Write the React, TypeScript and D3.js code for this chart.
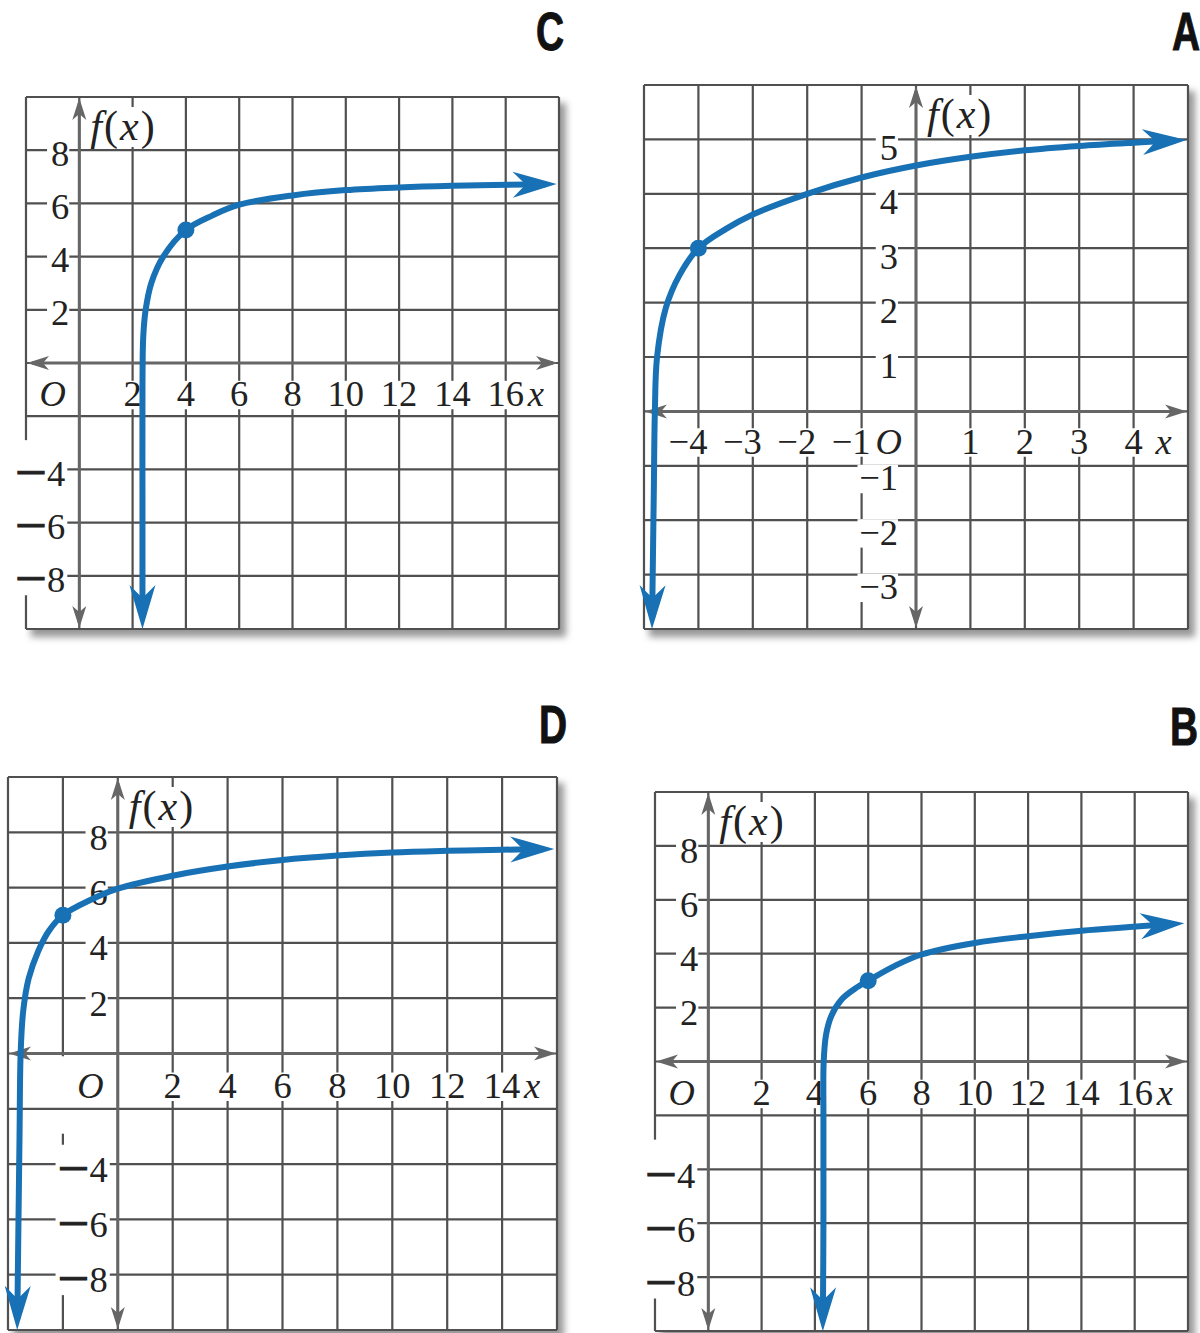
import React from "react";
import * as d3 from "d3";

// ---------------- DATA ----------------
// Panel C (top-left)
const cXDomain = [-2, 18];
const cYDomain = [-10, 10];
const cXTicks = [2, 4, 6, 8, 10, 12, 14, 16];
const cYTicks = [8, 6, 4, 2];
const cYNegTicks = [-4, -6, -8];
const cCurve: [number, number][] = [
  [2.37, -9.59], [2.37, -5], [2.37, -1], [2.4, 1], [2.49, 2], [2.7, 3], [3.15, 4],
  [4, 5], [5, 5.55], [6, 5.95], [8, 6.3], [10, 6.5], [12, 6.6], [14, 6.66], [17.5, 6.72],
];
const cPoint: [number, number] = [4, 5];

// Panel A (top-right)
const aXDomain = [-5, 5];
const aYDomain = [-4, 6];
const aXTicks = [-4, -3, -2, -1, 1, 2, 3, 4];
const aYTicks = [5, 4, 3, 2, 1];
const aYNegTicks = [-1, -2, -3];
const aCurve: [number, number][] = [
  [-4.85, -3.8], [-4.84, -3], [-4.82, -1.5], [-4.8, 0], [-4.76, 1], [-4.6, 1.9],
  [-4.35, 2.5], [-4, 3], [-3.5, 3.35], [-3, 3.62], [-2, 4.0], [-1, 4.3], [0, 4.52],
  [1, 4.68], [2, 4.8], [3, 4.88], [4, 4.94], [4.77, 4.98],
];
const aPoint: [number, number] = [-4, 3];

// Panel D (bottom-left)
const dXDomain = [-4, 16];
const dYDomain = [-10, 10];
const dXTicks = [2, 4, 6, 8, 10, 12, 14];
const dYTicks = [8, 6, 4, 2];
const dYNegTicks = [-4, -6, -8];
const dCurve: [number, number][] = [
  [-3.66, -9.6], [-3.63, -7], [-3.58, -3], [-3.54, 0], [-3.45, 1.5], [-3.25, 2.7],
  [-2.9, 3.7], [-2.5, 4.45], [-2, 5], [-1, 5.55], [0, 5.96], [2, 6.43], [4, 6.76],
  [6, 7.0], [8, 7.16], [10, 7.27], [12, 7.33], [14, 7.37], [15.5, 7.39],
];
const dPoint: [number, number] = [-2, 5];

// Panel B (bottom-right)
const bXDomain = [-2, 18];
const bYDomain = [-10, 10];
const bXTicks = [2, 4, 6, 8, 10, 12, 14, 16];
const bYTicks = [8, 6, 4, 2];
const bYNegTicks = [-4, -6, -8];
const bCurve: [number, number][] = [
  [4.3, -9.6], [4.32, -6], [4.32, -2], [4.33, 0], [4.42, 1], [4.62, 1.7], [5.0, 2.3],
  [5.5, 2.7], [6, 3], [7, 3.55], [8, 3.97], [10, 4.4], [12, 4.65], [14, 4.85], [17.45, 5.1],
];
const bPoint: [number, number] = [6, 3];

// ---------------- LAYOUT ----------------
const BLUE = "#1871b4";
const GRID = "#505050";
const AXIS = "#666666";
const INK = "#222222";
const SERIF = "'Liberation Serif', 'DejaVu Serif', serif";
const FS = 36.5;

type Panel = {
  letter: string; letterX: number; letterY: number;
  left: number; right: number; top: number; bottom: number;
  xDomain: number[]; yDomain: number[]; xStep: number; yStep: number;
  xTicks: number[]; yTicks: number[]; yNegTicks: number[];
  curve: [number, number][]; point: [number, number];
  yGap: number; yNegGap: number; yDy: number; yNegDy: number; rowFrac: number;
  heavyMinus: boolean;
  strips: { xv: number; y0: number; y1: number }[];
};

const panels: Panel[] = [
  {
    letter: "C", letterX: 550, letterY: 50,
    left: 26, right: 559, top: 97, bottom: 629,
    xDomain: cXDomain, yDomain: cYDomain, xStep: 2, yStep: 2,
    xTicks: cXTicks, yTicks: cYTicks, yNegTicks: cYNegTicks,
    curve: cCurve, point: cPoint, yGap: 10, yNegGap: 12, yDy: 3, yNegDy: 4, rowFrac: 0.58,
    heavyMinus: true,
    strips: [{ xv: -2, y0: -2.9, y1: -8.6 }],
  },
  {
    letter: "A", letterX: 1186, letterY: 50,
    left: 644, right: 1188, top: 85, bottom: 629,
    xDomain: aXDomain, yDomain: aYDomain, xStep: 1, yStep: 1,
    xTicks: aXTicks, yTicks: aYTicks, yNegTicks: aYNegTicks,
    curve: aCurve, point: aPoint, yGap: 18, yNegGap: 18, yDy: 8, yNegDy: 12, rowFrac: 0.55,
    heavyMinus: false,
    strips: [],
  },
  {
    letter: "D", letterX: 553, letterY: 743,
    left: 8, right: 557, top: 777, bottom: 1330,
    xDomain: dXDomain, yDomain: dYDomain, xStep: 2, yStep: 2,
    xTicks: dXTicks, yTicks: dYTicks, yNegTicks: dYNegTicks,
    curve: dCurve, point: dPoint, yGap: 10, yNegGap: 8, yDy: 5, yNegDy: 5, rowFrac: 0.58,
    heavyMinus: true,
    strips: [{ xv: -2, y0: -0.1, y1: -2.9 }, { xv: -2, y0: -3.3, y1: -8.6 }],
  },
  {
    letter: "B", letterX: 1184, letterY: 745,
    left: 655, right: 1188, top: 792, bottom: 1331,
    xDomain: bXDomain, yDomain: bYDomain, xStep: 2, yStep: 2,
    xTicks: bXTicks, yTicks: bYTicks, yNegTicks: bYNegTicks,
    curve: bCurve, point: bPoint, yGap: 10, yNegGap: 11, yDy: 5, yNegDy: 6, rowFrac: 0.58,
    heavyMinus: true,
    strips: [{ xv: -2, y0: -2.9, y1: -8.6 }],
  },
];

// approximate label box (white background behind a label)
function labelBox(text: string, x: number, baseline: number, anchor: "start" | "middle" | "end") {
  const wdt = text.length * FS * 0.5 + 4;
  const x0 = anchor === "middle" ? x - wdt / 2 : anchor === "end" ? x - wdt : x;
  return { x: x0, y: baseline - FS * 0.7, width: wdt, height: FS * 0.78 };
}

function Label({ text, x, y, anchor, italic }: { text: string; x: number; y: number; anchor: "start" | "middle" | "end"; italic?: boolean }) {
  const b = labelBox(text, x, y, anchor);
  return (
    <g>
      <rect x={b.x} y={b.y} width={b.width} height={b.height} fill="#fff" />
      <text x={x} y={y} textAnchor={anchor} fontStyle={italic ? "italic" : "normal"}>
        {text}
      </text>
    </g>
  );
}

// negative label with a long heavy minus sign (as in the C, D and B panels)
function HeavyNegLabel({ v, x, y }: { v: number; x: number; y: number }) {
  const digits = String(Math.abs(v));
  const minusLen = 32;
  const digitW = digits.length * FS * 0.5;
  const wdt = minusLen + digitW + 4;
  return (
    <g>
      <rect x={x - wdt} y={y - FS * 0.7} width={wdt} height={FS * 0.78} fill="#fff" />
      <text x={x - wdt + 2} y={y} textAnchor="start">
        <tspan fontWeight="bold" fontSize={40} stroke={INK} strokeWidth={0.9}
          textLength={minusLen} lengthAdjust="spacingAndGlyphs">
          {"\u2212"}
        </tspan>
        <tspan>{digits}</tspan>
      </text>
    </g>
  );
}

function GraphPanel({ p }: { p: Panel }) {
  const xs = d3.scaleLinear().domain(p.xDomain).range([p.left, p.right]);
  const ys = d3.scaleLinear().domain(p.yDomain).range([p.bottom, p.top]);
  const vLines = d3.range(p.xDomain[0], p.xDomain[1] + 1e-9, p.xStep);
  const hLines = d3.range(p.yDomain[0], p.yDomain[1] + 1e-9, p.yStep);
  const cellH = Math.abs(ys(0) - ys(p.yStep));
  const x0 = xs(0);
  const y0 = ys(0);
  const lineGen = d3
    .line<[number, number]>()
    .x((d) => xs(d[0]))
    .y((d) => ys(d[1]))
    .curve(d3.curveCatmullRom.alpha(0.5));
  const rowY = y0 + p.rowFrac * cellH + 12.5;
  const lastTick = p.xTicks[p.xTicks.length - 1];
  const w = p.right - p.left;
  const h = p.bottom - p.top;

  return (
    <g>
      {/* shadow */}
      <rect x={p.left + 5} y={p.top + 6} width={w + 2} height={h + 2} fill="#8c8c8c" opacity={0.9} filter="url(#shadowBlur)" />
      <rect x={p.left} y={p.top} width={w} height={h} fill="#fff" />
      {/* vertical grid lines */}
      {vLines.map((v) => (
        <line key={"v" + v} x1={xs(v)} x2={xs(v)} y1={p.top} y2={p.bottom} stroke={GRID} strokeWidth={2.2} />
      ))}
      {/* white strips hiding vertical lines behind labels */}
      {p.strips.map((s, i) => (
        <rect key={"s" + i} x={xs(s.xv) - 4} y={ys(s.y0)} width={8} height={ys(s.y1) - ys(s.y0)} fill="#fff" />
      ))}
      {/* horizontal grid lines */}
      {hLines.map((v) => (
        <line key={"h" + v} x1={p.left} x2={p.right} y1={ys(v)} y2={ys(v)} stroke={GRID} strokeWidth={2.2} />
      ))}
      {/* tick labels */}
      <g fontFamily={SERIF} fontSize={FS} fill={INK}>
        {p.yTicks.map((v) => (
          <Label key={"yt" + v} text={String(v)} x={x0 - p.yGap} y={ys(v) + p.yDy + 12.5} anchor="end" />
        ))}
        {p.yNegTicks.map((v) =>
          p.heavyMinus ? (
            <HeavyNegLabel key={"yn" + v} v={v} x={x0 - p.yNegGap} y={ys(v) + p.yNegDy + 12.5} />
          ) : (
            <Label key={"yn" + v} text={"\u2212" + Math.abs(v)} x={x0 - p.yNegGap} y={ys(v) + p.yNegDy + 12.5} anchor="end" />
          )
        )}
        {p.xTicks.map((v) =>
          v < 0 ? (
            <Label key={"xt" + v} text={"\u2212" + Math.abs(v)} x={xs(v) + 9} y={rowY} anchor="end" />
          ) : (
            <Label key={"xt" + v} text={String(v)} x={xs(v)} y={rowY} anchor="middle" />
          )
        )}
        <Label text="O" x={xs(-p.xStep / 2)} y={rowY} anchor="middle" italic />
        <Label text="x" x={xs(lastTick) + 22} y={rowY} anchor="start" italic />
        <rect x={x0 + 8} y={p.top + 10} width={70} height={40} fill="#fff" />
        <text x={x0 + 11} y={p.top + 43} fontSize={42} letterSpacing={2}>
          <tspan fontStyle="italic">f</tspan>
          <tspan>(</tspan>
          <tspan fontStyle="italic">x</tspan>
          <tspan>)</tspan>
        </text>
      </g>
      {/* axes */}
      <line x1={p.left + 6} x2={p.right - 6} y1={y0} y2={y0} stroke={AXIS} strokeWidth={3}
        markerStart="url(#grayArrow)" markerEnd="url(#grayArrow)" />
      <line x1={x0} x2={x0} y1={p.top + 6} y2={p.bottom - 6} stroke={AXIS} strokeWidth={3}
        markerStart="url(#grayArrow)" markerEnd="url(#grayArrow)" />
      {/* curve */}
      <path d={lineGen(p.curve) || ""} fill="none" stroke={BLUE} strokeWidth={6}
        markerStart="url(#blueArrow)" markerEnd="url(#blueArrow)" />
      <circle cx={xs(p.point[0])} cy={ys(p.point[1])} r={8.5} fill={BLUE} />
      {/* panel letter */}
      <text transform={`translate(${p.letterX},${p.letterY}) scale(0.72,1)`} textAnchor="middle"
        fontFamily="'Liberation Sans', Arial, sans-serif" fontWeight="bold" fontSize={54} fill="#111"
        stroke="#111" strokeWidth={1}>
        {p.letter}
      </text>
    </g>
  );
}

export default function App() {
  return (
    <svg width={1200} height={1333} viewBox="0 0 1200 1333"
      style={{ position: "absolute", left: 0, top: 0, background: "#fff" }}>
      <defs>
        <filter id="shadowBlur" x="-10%" y="-10%" width="120%" height="120%">
          <feGaussianBlur stdDeviation={3.5} />
        </filter>
        <marker id="blueArrow" markerUnits="userSpaceOnUse" viewBox="-50 -16 60 32" markerWidth={60} markerHeight={32}
          refX={-11} refY={0} orient="auto-start-reverse">
          <path d="M0,0 L-44,-13 L-31,0 L-44,13 Z" fill={BLUE} />
        </marker>
        <marker id="grayArrow" markerUnits="userSpaceOnUse" viewBox="-30 -10 36 20" markerWidth={36} markerHeight={20}
          refX={-5} refY={0} orient="auto-start-reverse">
          <path d="M0,0 L-22,-7 L-16,0 L-22,7 Z" fill={AXIS} />
        </marker>
      </defs>
      <rect x={0} y={0} width={1200} height={1333} fill="#fff" />
      {panels.map((p) => (
        <GraphPanel key={p.letter} p={p} />
      ))}
    </svg>
  );
}
